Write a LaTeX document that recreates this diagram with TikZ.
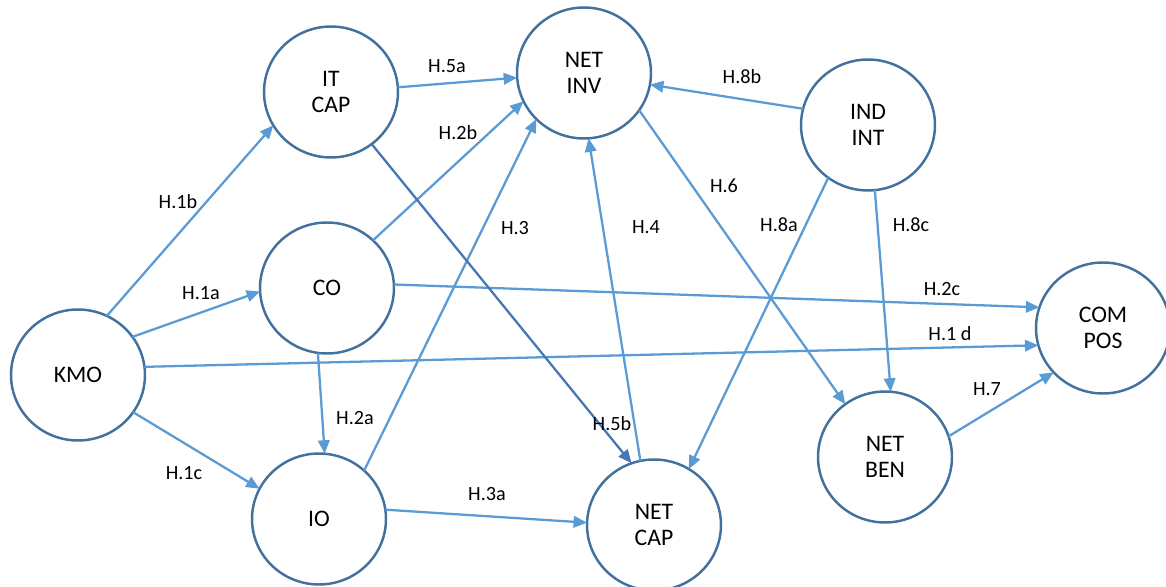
\documentclass[tikz,border=0pt]{standalone}
\usepackage{fontspec}
\setmainfont{Carlito}
\usetikzlibrary{shapes.geometric,arrows.meta}
\definecolor{nodeline}{HTML}{41719C}
\definecolor{arrowblue}{HTML}{5B9BD5}
\definecolor{darkarrow}{HTML}{4677B5}

\begin{document}
\begin{tikzpicture}[x=0.02cm,y=-0.02cm,inner sep=0pt,outer sep=0pt,
construct/.style={draw=nodeline,ellipse,line width=1.4pt,minimum width=2.68cm,minimum height=2.62cm,align=center,font=\fontsize{13.5}{15}\selectfont},
hyp/.style={draw=arrowblue,line width=1.3pt,-{Triangle[length=0.27cm,width=0.23cm]}},
hlabel/.style={font=\fontsize{11.5}{13}\selectfont}]

\useasboundingbox (0,0) rectangle (1166,587);

% constructs
\draw (78,375) node[construct] (kmo) {KMO};
\draw (331,92) node[construct] (itcap) {IT\\CAP};
\draw (327,288) node[construct] (co) {CO};
\draw (319,519) node[construct] (io) {IO};
\draw (584,73) node[construct] (netinv) {NET\\INV};
\draw (654,525) node[construct] (netcap) {NET\\CAP};
\draw (868,125) node[construct] (indint) {IND\\INT};
\draw (885,457) node[construct] (netben) {NET\\BEN};
\draw (1103,328) node[construct] (compos) {COM\\POS};

% hypotheses
\draw[hyp] (kmo.64) -- (itcap.210);
\draw[hyp] (kmo.35) -- (co.183);
\draw[hyp] (kmo.7) -- (compos.195);
\draw[hyp] (kmo.326) -- (io.153);
\draw[hyp] (co.262) -- (io.85);
\draw[hyp] (co.46) -- (netinv.205);
\draw[hyp] (co.3) -- (compos.162);
\draw[hyp] (io.47) -- (netinv.224);
\draw[hyp] (io.8) -- (netcap.178);
\draw[hyp] (netcap.102) -- (netinv.274);
\draw[hyp] (itcap.4) -- (netinv.184);
\draw[hyp,draw=darkarrow] (itcap.308) -- (netcap.110);
\draw[hyp] (netinv.326) -- (netben.127);
\draw[hyp] (netben.18) -- (compos.222);
\draw[hyp] (indint.233) -- (netcap.58);
\draw[hyp] (indint.166) -- (netinv.350);
\draw[hyp] (indint.276) -- (netben.85);

% labels
\draw (178,202) node[hlabel] (h1b) {H.1b};
\draw (201,293) node[hlabel] (h1a) {H.1a};
\draw (950,334) node[hlabel] (h1d) {H.1 d};
\draw (184,473) node[hlabel] (h1c) {H.1c};
\draw (355,418) node[hlabel] (h2a) {H.2a};
\draw (458,133) node[hlabel] (h2b) {H.2b};
\draw (942,289) node[hlabel] (h2c) {H.2c};
\draw (515,228) node[hlabel] (h3) {H.3};
\draw (487,494) node[hlabel] (h3a) {H.3a};
\draw (646,227) node[hlabel] (h4) {H.4};
\draw (447,66) node[hlabel] (h5a) {H.5a};
\draw (612,424) node[hlabel] (h5b) {H.5b};
\draw (724,186) node[hlabel] (h6) {H.6};
\draw (987,389) node[hlabel] (h7) {H.7};
\draw (779,225) node[hlabel] (h8a) {H.8a};
\draw (742,77) node[hlabel] (h8b) {H.8b};
\draw (911,225) node[hlabel] (h8c) {H.8c};
\end{tikzpicture}
\end{document}
